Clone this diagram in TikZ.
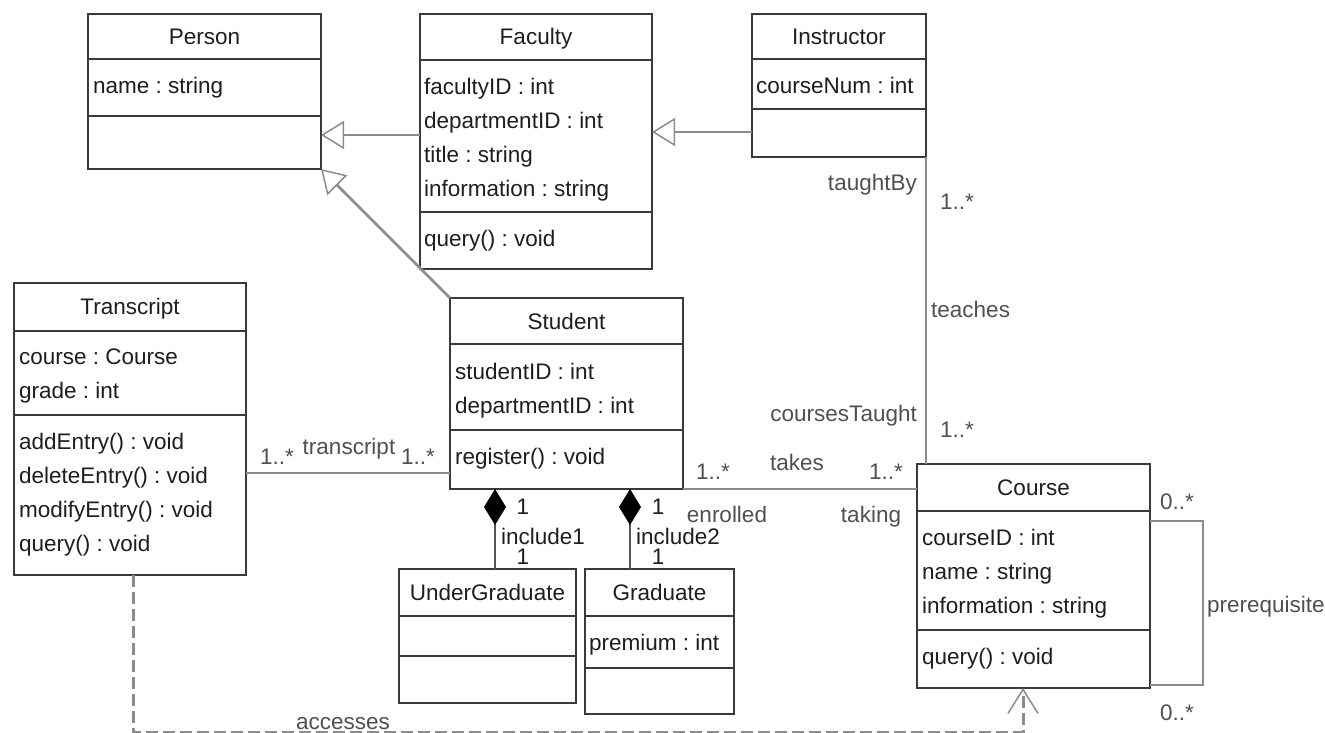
\documentclass[tikz,border=0pt]{standalone}
\usepackage{fontspec}
\setmainfont{Liberation Sans}
\usetikzlibrary{arrows.meta}
\definecolor{boxc}{HTML}{3A3A3A}
\definecolor{linec}{HTML}{8C8C8C}
\definecolor{compc}{HTML}{555555}
\definecolor{txtc}{HTML}{1E1E1E}
\definecolor{lblc}{HTML}{505050}
\frenchspacing
\begin{document}
\begin{tikzpicture}[x=1pt,y=-1pt,
  cls/.style={draw=boxc, line width=2pt, fill=white, anchor=north west, inner sep=0pt, outer sep=0pt},
  divl/.style={draw=boxc, line width=2pt},
  txt/.style={inner sep=0pt, text height=16pt, text depth=5pt, yshift=-2pt, font=\fontsize{22.5}{27}\selectfont, text=txtc},
  attr/.style={txt, anchor=west},
  lbl/.style={txt, text=lblc},
  conn/.style={draw=linec, line width=2.5pt},
  gen/.style={conn, -{Triangle[open, length=23pt, width=28pt, fill=white, line width=1.5pt]}},
  comp/.style={draw=compc, line width=2.5pt, -{Diamond[length=36pt, width=22pt, fill=black, color=black]}},
  dep/.style={draw=linec, line width=3pt, dash pattern=on 12pt off 5pt, -{Straight Barb[length=24pt, width=30pt, line width=1.5pt]}}
]
\fill[white] (0,0) rectangle (1325,733);
\useasboundingbox (0,0) rectangle (1325,733);

% ---------- Person
\node[cls, minimum width=233pt, minimum height=155pt] (person) at (88,14) {};
\draw[divl] (person.west |- 0,59) -- (person.east |- 0,59);
\draw[divl] (person.west |- 0,116) -- (person.east |- 0,116);
\node[txt] (person-t) at (204.5,37) {Person};
\node[attr] (person-a1) at (93,86) {name : string};

% ---------- Faculty
\node[cls, minimum width=232pt, minimum height=255pt] (faculty) at (420,14) {};
\draw[divl] (faculty.west |- 0,60) -- (faculty.east |- 0,60);
\draw[divl] (faculty.west |- 0,212) -- (faculty.east |- 0,212);
\node[txt] (faculty-t) at (536,37) {Faculty};
\foreach \t [count=\i] in {facultyID : int, departmentID : int, title : string, information : string}
  \node[attr] (faculty-a\i) at (424,87+34*\i-34) {\t};
\node[attr] (faculty-m1) at (424,239) {query() : void};

% ---------- Instructor
\node[cls, minimum width=174pt, minimum height=143pt] (instructor) at (752,14) {};
\draw[divl] (instructor.west |- 0,59) -- (instructor.east |- 0,59);
\draw[divl] (instructor.west |- 0,109) -- (instructor.east |- 0,109);
\node[txt] (instructor-t) at (839,37) {Instructor};
\node[attr] (instructor-a1) at (756,86) {courseNum : int};

% ---------- Transcript
\node[cls, minimum width=232pt, minimum height=292pt] (transcript) at (14,283) {};
\draw[divl] (transcript.west |- 0,331) -- (transcript.east |- 0,331);
\draw[divl] (transcript.west |- 0,415) -- (transcript.east |- 0,415);
\node[txt] (transcript-t) at (130,307) {Transcript};
\node[attr] (transcript-a1) at (19,357) {course : Course};
\node[attr] (transcript-a2) at (19,391) {grade : int};
\foreach \t [count=\i] in {addEntry() : void, deleteEntry() : void, modifyEntry() : void, query() : void}
  \node[attr] (transcript-m\i) at (19,442+34*\i-34) {\t};

% ---------- Student
\node[cls, minimum width=233pt, minimum height=191pt] (student) at (450,298) {};
\draw[divl] (student.west |- 0,344) -- (student.east |- 0,344);
\draw[divl] (student.west |- 0,430) -- (student.east |- 0,430);
\node[txt] (student-t) at (566.5,322) {Student};
\node[attr] (student-a1) at (455,372) {studentID : int};
\node[attr] (student-a2) at (455,406) {departmentID : int};
\node[attr] (student-m1) at (455,457) {register() : void};

% ---------- UnderGraduate
\node[cls, minimum width=177pt, minimum height=134pt] (ug) at (399,569) {};
\draw[divl] (ug.west |- 0,616) -- (ug.east |- 0,616);
\draw[divl] (ug.west |- 0,656) -- (ug.east |- 0,656);
\node[txt] (ug-t) at (487.5,593) {UnderGraduate};

% ---------- Graduate
\node[cls, minimum width=149pt, minimum height=145pt] (grad) at (585,569) {};
\draw[divl] (grad.west |- 0,616) -- (grad.east |- 0,616);
\draw[divl] (grad.west |- 0,668) -- (grad.east |- 0,668);
\node[txt] (grad-t) at (659.5,593) {Graduate};
\node[attr] (grad-a1) at (589,643) {premium : int};

% ---------- Course
\node[cls, minimum width=233pt, minimum height=224pt] (course) at (917,464) {};
\draw[divl] (course.west |- 0,511) -- (course.east |- 0,511);
\draw[divl] (course.west |- 0,630) -- (course.east |- 0,630);
\node[txt] (course-t) at (1033.5,488) {Course};
\foreach \t [count=\i] in {courseID : int, name : string, information : string}
  \node[attr] (course-a\i) at (922,538+34*\i-34) {\t};
\node[attr] (course-m1) at (922,657) {query() : void};

% ---------- generalizations
\draw[gen] (faculty.west |- 0,135) -- (person.east |- 0,135);
\draw[gen] (instructor.west |- 0,132) -- (faculty.east |- 0,132);
\draw[gen] (student.north west) -- (person.south east);

% ---------- associations
\draw[conn] (instructor.south east) -- (instructor.south east |- course.north);
\draw[conn] (transcript.east |- 0,473) -- (student.west |- 0,473);
\draw[conn] (student.south east) -- (course.west |- student.south east);
\draw[conn] (course.east |- 0,521) -| (1203,603) |- (course.east |- 0,685);

% ---------- compositions
\draw[comp] (ug.north -| 495,0) -- (student.south -| 495,0);
\draw[comp] (grad.north -| 630,0) -- (student.south -| 630,0);

% ---------- dependency
\draw[dep] (transcript.south -| 133,0) -- (133,732) -| (course.south -| 1023,0);

% ---------- labels
\node[lbl, anchor=east] (l-taughtby) at (917,183) {taughtBy};
\node[lbl, anchor=west] (l-m1) at (940,202) {1..*};
\node[lbl, anchor=west] (l-teaches) at (931,310) {teaches};
\node[lbl, anchor=east] (l-ctaught) at (917,414) {coursesTaught};
\node[lbl, anchor=west] (l-m2) at (940,430) {1..*};

\node[lbl] (l-m3) at (277,457) {1..*};
\node[lbl] (l-transcript) at (349,447) {transcript};
\node[lbl] (l-m4) at (418,457) {1..*};

\node[lbl] (l-m5) at (713,472) {1..*};
\node[lbl] (l-takes) at (797,463) {takes};
\node[lbl] (l-m6) at (886,472) {1..*};
\node[lbl] (l-enrolled) at (727,515) {enrolled};
\node[lbl] (l-taking) at (871,515) {taking};

\node[txt] (l-c1a) at (523,507) {1};
\node[txt, anchor=west] (l-inc1) at (501,537) {include1};
\node[txt] (l-c1b) at (523,557) {1};
\node[txt] (l-c2a) at (658,507) {1};
\node[txt, anchor=west] (l-inc2) at (636,537) {include2};
\node[txt] (l-c2b) at (658,557) {1};

\node[lbl] (l-m7) at (1177,502) {0..*};
\node[lbl, anchor=west] (l-prereq) at (1207,605) {prerequisite};
\node[lbl] (l-m8) at (1177,713) {0..*};

\node[lbl] (l-accesses) at (343,722) {accesses};
\end{tikzpicture}
\end{document}
